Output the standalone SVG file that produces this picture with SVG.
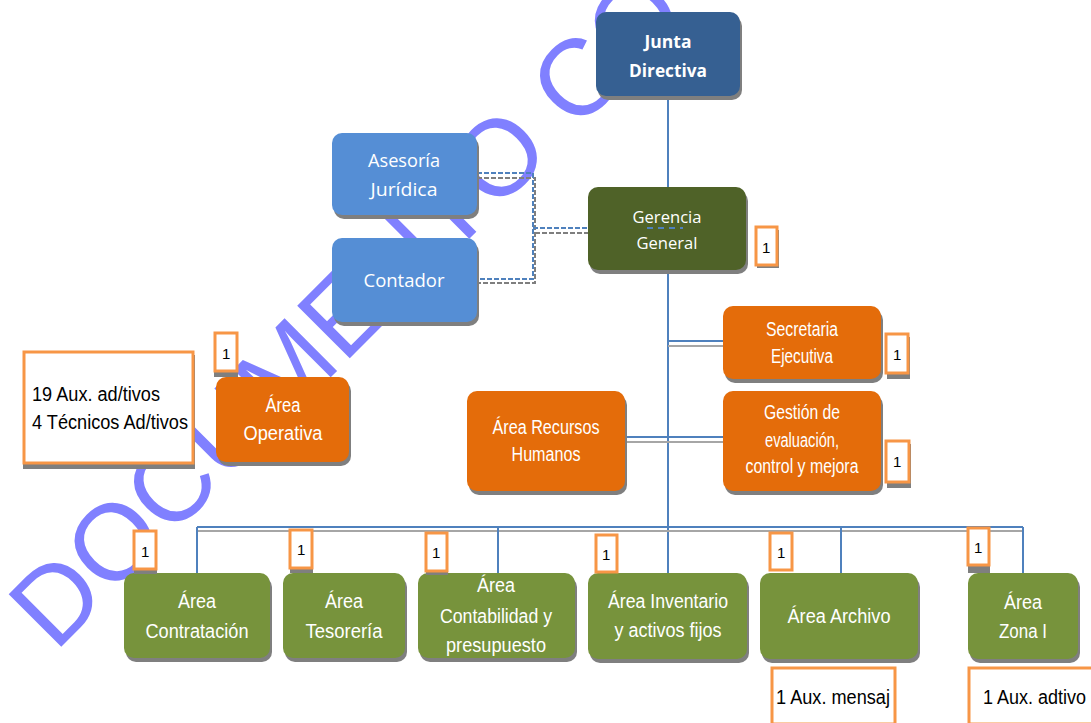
<svg xmlns="http://www.w3.org/2000/svg" width="1091" height="723" viewBox="0 0 1091 723">
<style>
.t{font-family:"Liberation Sans",Arial,sans-serif;fill:#fff;text-anchor:middle;font-size:20px}
.c{font-family:"Open Sans","Liberation Sans",sans-serif;fill:#fff;text-anchor:middle}
.k{font-family:"Liberation Sans",Arial,sans-serif;fill:#000}
.sh{fill:#7f7f7f}
.bd{fill:#fff;stroke:#F79646;stroke-width:3}
.ln{stroke:#4F81BD;stroke-width:2;fill:none}
.lg{stroke:#A6A6A6;stroke-width:2;fill:none}
.db{stroke:#4F81BD;stroke-width:2;stroke-dasharray:5,2;fill:none}
.dg{stroke:#7f7f7f;stroke-width:2;stroke-dasharray:5,2;fill:none}
.or{fill:#E46C0A}
.gr{fill:#77933C}
</style>
<rect width="1091" height="723" fill="#fff"/>
<text x="55" y="653" transform="rotate(-45 55 653)" font-family="Liberation Sans, Arial, sans-serif" font-size="108" fill="#8080FF">DOCUMENTO CO</text>

<g id="connectors">
<line class="ln" x1="668" y1="96" x2="668" y2="573"/>
<line class="lg" x1="668" y1="346" x2="723" y2="346"/>
<line class="ln" x1="668" y1="341" x2="723" y2="341"/>
<line class="lg" x1="625" y1="442" x2="723" y2="442"/>
<line class="ln" x1="625" y1="437" x2="723" y2="437"/>
<line class="lg" x1="197" y1="531" x2="1023" y2="531"/>
<line class="ln" x1="197" y1="527" x2="1023" y2="527"/>
<line class="ln" x1="197" y1="527" x2="197" y2="573"/>
<line class="ln" x1="498" y1="527" x2="498" y2="573"/>
<line class="ln" x1="841" y1="527" x2="841" y2="573"/>
<line class="ln" x1="1023" y1="527" x2="1023" y2="573"/>
<path class="dg" d="M477 178H535V283H477M535 233H588"/>
<path class="db" d="M477 173H533V279H477M533 228H588"/>
</g>

<g id="junta">
<rect class="sh" x="598" y="16" width="144" height="84" rx="10"/>
<rect x="596" y="12" width="144" height="84" rx="10" fill="#366092"/>
<text class="c" font-weight="bold" font-size="17"><tspan x="668" y="48" textLength="47" lengthAdjust="spacingAndGlyphs">Junta</tspan><tspan x="668" y="77" textLength="78" lengthAdjust="spacingAndGlyphs">Directiva</tspan></text>
</g>

<g id="asesoria">
<rect class="sh" x="334" y="137" width="145" height="82" rx="10"/>
<rect x="332" y="133" width="145" height="82" rx="10" fill="#558ED5"/>
<text class="c" font-size="18"><tspan x="404" y="167" textLength="72" lengthAdjust="spacingAndGlyphs">Asesoría</tspan><tspan x="404" y="196" textLength="67" lengthAdjust="spacingAndGlyphs">Jurídica</tspan></text>
</g>

<g id="contador">
<rect class="sh" x="334" y="242" width="145" height="84" rx="10"/>
<rect x="332" y="238" width="145" height="84" rx="10" fill="#558ED5"/>
<text class="c" font-size="18" x="404" y="287" textLength="81" lengthAdjust="spacingAndGlyphs">Contador</text>
</g>

<g id="gerencia">
<rect class="sh" x="590" y="191" width="158" height="83" rx="10"/>
<rect x="588" y="187" width="158" height="83" rx="10" fill="#4F6228"/>
<line x1="647" y1="228" x2="683" y2="228" stroke="#4F81BD" stroke-width="2" stroke-dasharray="6,5"/>
<text class="c" font-size="17" fill="#EBF1DE"><tspan x="667" y="223" textLength="69" lengthAdjust="spacingAndGlyphs">Gerencia</tspan><tspan x="667" y="249" textLength="61" lengthAdjust="spacingAndGlyphs">General</tspan></text>
<rect class="sh" x="757" y="230" width="22" height="38"/>
<rect class="bd" x="756" y="227" width="21" height="38"/>
<text class="k" font-size="15" x="762" y="253">1</text>
</g>

<g id="secretaria">
<rect class="sh" x="725" y="310" width="158" height="73" rx="10"/>
<rect class="or" x="723" y="306" width="158" height="73" rx="10"/>
<text class="t"><tspan x="802" y="336" textLength="72" lengthAdjust="spacingAndGlyphs">Secretaria</tspan><tspan x="802" y="363" textLength="62" lengthAdjust="spacingAndGlyphs">Ejecutiva</tspan></text>
<rect class="sh" x="887" y="337" width="23" height="42"/>
<rect class="bd" x="886" y="334" width="22" height="39"/>
<text class="k" font-size="15" x="893" y="360">1</text>
</g>

<g id="gestion">
<rect class="sh" x="725" y="395" width="158" height="100" rx="10"/>
<rect class="or" x="723" y="391" width="158" height="100" rx="10"/>
<text class="t"><tspan x="802" y="419" textLength="76" lengthAdjust="spacingAndGlyphs">Gestión de</tspan><tspan x="802" y="447" textLength="74" lengthAdjust="spacingAndGlyphs">evaluación,</tspan><tspan x="802" y="473" textLength="113" lengthAdjust="spacingAndGlyphs">control y mejora</tspan></text>
<rect class="sh" x="887" y="444" width="24" height="44"/>
<rect class="bd" x="886" y="441" width="23" height="41"/>
<text class="k" font-size="15" x="893" y="467">1</text>
</g>

<g id="rrhh">
<rect class="sh" x="469" y="395" width="158" height="100" rx="10"/>
<rect class="or" x="467" y="391" width="158" height="100" rx="10"/>
<text class="t"><tspan x="546" y="434" textLength="107" lengthAdjust="spacingAndGlyphs">Área Recursos</tspan><tspan x="546" y="461" textLength="69" lengthAdjust="spacingAndGlyphs">Humanos</tspan></text>
</g>

<g id="operativa">
<rect class="sh" x="218" y="381" width="133" height="85" rx="10"/>
<rect class="or" x="216" y="377" width="133" height="85" rx="10"/>
<text class="t"><tspan x="283" y="412" textLength="35" lengthAdjust="spacingAndGlyphs">Área</tspan><tspan x="283" y="440" textLength="79" lengthAdjust="spacingAndGlyphs">Operativa</tspan></text>
<rect class="sh" x="214" y="336" width="24" height="41"/>
<rect class="bd" x="215" y="333" width="22" height="38"/>
<text class="k" font-size="15" x="222" y="359">1</text>
<rect class="sh" x="23" y="355" width="172" height="114"/>
<rect class="bd" x="24" y="352" width="169" height="111"/>
<text class="k" font-size="20"><tspan x="32" y="401" textLength="128" lengthAdjust="spacingAndGlyphs">19 Aux. ad/tivos</tspan><tspan x="32" y="429" textLength="156" lengthAdjust="spacingAndGlyphs">4 Técnicos Ad/tivos</tspan></text>
</g>

<g id="contratacion">
<rect class="sh" x="126" y="577" width="146" height="85" rx="10"/>
<rect class="gr" x="124" y="573" width="146" height="85" rx="10"/>
<text class="t"><tspan x="197" y="608" textLength="38" lengthAdjust="spacingAndGlyphs">Área</tspan><tspan x="197" y="638" textLength="103" lengthAdjust="spacingAndGlyphs">Contratación</tspan></text>
<rect class="sh" x="134" y="534" width="23" height="40"/>
<rect class="bd" x="134" y="531" width="22" height="38"/>
<text class="k" font-size="15" x="141" y="557">1</text>
</g>

<g id="tesoreria">
<rect class="sh" x="285" y="577" width="122" height="85" rx="10"/>
<rect class="gr" x="283" y="573" width="122" height="85" rx="10"/>
<text class="t"><tspan x="344" y="608" textLength="38" lengthAdjust="spacingAndGlyphs">Área</tspan><tspan x="344" y="638" textLength="77" lengthAdjust="spacingAndGlyphs">Tesorería</tspan></text>
<rect class="sh" x="290" y="533" width="23" height="40"/>
<rect class="bd" x="290" y="530" width="22" height="38"/>
<text class="k" font-size="15" x="297" y="555">1</text>
</g>

<g id="contabilidad">
<rect class="sh" x="420" y="577" width="157" height="85" rx="10"/>
<rect class="gr" x="418" y="573" width="157" height="85" rx="10"/>
<text class="t"><tspan x="496" y="592" textLength="38" lengthAdjust="spacingAndGlyphs">Área</tspan><tspan x="496" y="623" textLength="112" lengthAdjust="spacingAndGlyphs">Contabilidad y</tspan><tspan x="496" y="652" textLength="100" lengthAdjust="spacingAndGlyphs">presupuesto</tspan></text>
<rect class="sh" x="426" y="536" width="22" height="39"/>
<rect class="bd" x="426" y="533" width="21" height="38"/>
<text class="k" font-size="15" x="432" y="558">1</text>
</g>

<g id="inventario">
<rect class="sh" x="590" y="577" width="159" height="86" rx="10"/>
<rect class="gr" x="588" y="573" width="159" height="86" rx="10"/>
<text class="t"><tspan x="668" y="608" textLength="120" lengthAdjust="spacingAndGlyphs">Área Inventario</tspan><tspan x="668" y="637" textLength="107" lengthAdjust="spacingAndGlyphs">y activos fijos</tspan></text>
<rect class="bd" x="596" y="535" width="21" height="37"/>
<text class="k" font-size="15" x="602" y="560">1</text>
</g>

<g id="archivo">
<rect class="sh" x="762" y="577" width="158" height="86" rx="10"/>
<rect class="gr" x="760" y="573" width="158" height="86" rx="10"/>
<text class="t" x="839" y="623" textLength="103" lengthAdjust="spacingAndGlyphs">Área Archivo</text>
<rect class="bd" x="770" y="533" width="22" height="37"/>
<text class="k" font-size="15" x="777" y="558">1</text>
<rect class="bd" x="772" y="668" width="123" height="56"/>
<text class="k" font-size="20" x="776" y="704" textLength="114" lengthAdjust="spacingAndGlyphs">1 Aux. mensaj</text>
</g>

<g id="zona">
<rect class="sh" x="970" y="577" width="110" height="86" rx="10"/>
<rect class="gr" x="968" y="573" width="110" height="86" rx="10"/>
<text class="t"><tspan x="1023" y="609" textLength="38" lengthAdjust="spacingAndGlyphs">Área</tspan><tspan x="1023" y="638" textLength="48" lengthAdjust="spacingAndGlyphs">Zona I</tspan></text>
<rect class="sh" x="968" y="531" width="22" height="42"/>
<rect class="bd" x="968" y="528" width="21" height="37"/>
<text class="k" font-size="15" x="974" y="553">1</text>
<rect class="bd" x="969" y="668" width="124" height="56"/>
<text class="k" font-size="20" x="983" y="704" textLength="103" lengthAdjust="spacingAndGlyphs">1 Aux. adtivo</text>
</g>
</svg>
